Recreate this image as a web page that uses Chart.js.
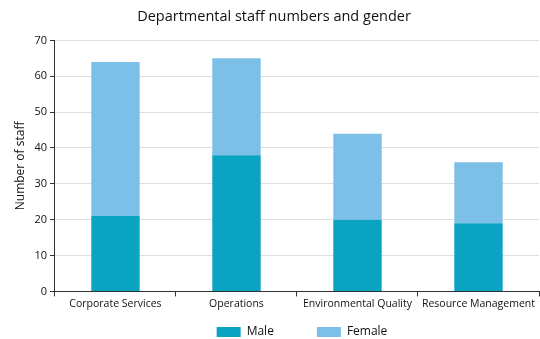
<!DOCTYPE html>
<html>
<head>
<meta charset="utf-8">
<script src="https://cdn.jsdelivr.net/npm/chart.js@4"></script>
<style>
  html, body { margin: 0; padding: 0; background: #fff; }
  #wrap { width: 540px; height: 339px; }
</style>
</head>
<body>
<div id="wrap"><canvas id="chart"></canvas></div>
<script>
// Data
const departments = ['Corporate Services', 'Operations', 'Environmental Quality', 'Resource Management'];
const maleStaff = [21, 38, 20, 19];
const femaleStaff = [43, 27, 24, 17];
const yTicks = [0, 10, 20, 30, 40, 50, 60, 70];

const fontFamily = '"Open Sans", "Noto Sans", sans-serif';
const legendGap = 43;      // horizontal space between legend items
const legendBoxHeight = 28; // space the legend takes at the bottom

// Legend padding also sets its height, so keep the wide gap but a short box
const compactLegend = {
    id: 'compactLegend',
    beforeInit(chart) {
        const legend = chart.legend;
        const fit = legend.fit;
        legend.fit = function () {
            fit.call(this);
            this.height = legendBoxHeight;
        };
        const draw = legend.draw;
        legend.draw = function () {
            const { top, left, right } = this;
            this.top = top + 15 - legendGap;
            this.left = left + 28;
            this.right = right + 28;
            draw.call(this);
            this.top = top;
            this.left = left;
            this.right = right;
        };
    }
};

new Chart(document.getElementById('chart'), {
    type: 'bar',
    data: {
        labels: departments,
        datasets: [
            {
                label: 'Male',
                data: maleStaff,
                backgroundColor: '#0aa3c2',
                barPercentage: 0.8,
                categoryPercentage: 0.5
            },
            {
                label: 'Female',
                data: femaleStaff,
                backgroundColor: '#7cc0e8',
                barPercentage: 0.8,
                categoryPercentage: 0.5
            }
        ]
    },
    plugins: [compactLegend],
    options: {
        responsive: true,
        maintainAspectRatio: false,
        animation: false,
        layout: { padding: { left: 9, right: 1, top: 4, bottom: 0 } },
        plugins: {
            title: {
                display: true,
                text: 'Departmental staff numbers and gender',
                color: '#111',
                font: { family: fontFamily, size: 14.5, weight: 'normal' },
                padding: { top: 4, bottom: 15 }
            },
            legend: {
                position: 'bottom',
                labels: {
                    color: '#111',
                    font: { family: fontFamily, size: 12 },
                    boxWidth: 24,
                    boxHeight: 10,
                    padding: legendGap
                }
            },
            tooltip: { enabled: false }
        },
        scales: {
            x: {
                stacked: true,
                grid: {
                    display: true,
                    drawOnChartArea: false,
                    offset: true,
                    tickLength: 5,
                    tickColor: '#333'
                },
                border: { display: true, color: '#333', width: 1 },
                ticks: {
                    color: '#111',
                    font: { family: fontFamily, size: 10.5 },
                    padding: 1,
                    maxRotation: 0
                }
            },
            y: {
                stacked: true,
                min: 0,
                max: 70,
                afterBuildTicks: (axis) => {
                    axis.ticks = yTicks.map(v => ({ value: v }));
                },
                grid: {
                    color: '#dedede',
                    tickColor: '#333',
                    tickLength: 5
                },
                border: { display: true, color: '#333', width: 1 },
                ticks: {
                    color: '#111',
                    font: { family: fontFamily, size: 11 },
                    padding: 3
                },
                title: {
                    display: true,
                    text: 'Number of staff',
                    color: '#111',
                    font: { family: fontFamily, size: 12 },
                    padding: { bottom: 4 }
                }
            }
        }
    }
});
</script>
</body>
</html>
